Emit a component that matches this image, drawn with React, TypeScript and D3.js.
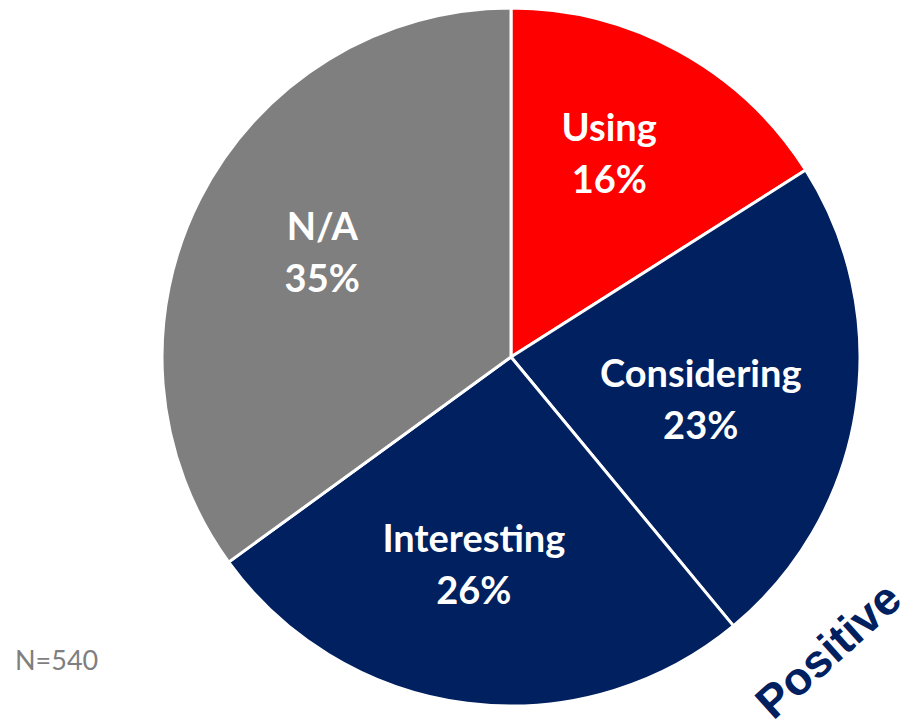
import * as d3 from 'd3';
import { useEffect, useRef } from 'react';

const categories = ['Using', 'Considering', 'Interesting', 'N/A'];
const values = [16, 23, 26, 35];
const colors = ['#FF0000', '#002060', '#002060', '#7F7F7F'];

// label nudges (px) from the slice centroid, to mimic Excel's placement
const labelNudge = [
  [-6, -14],
  [-24, 8],
  [-10, -8],
  [4, -7],
];

const width = 903;
const height = 720;

export default function App() {
  const svgRef = useRef<SVGSVGElement>(null);

  useEffect(() => {
    const svg = d3.select(svgRef.current);
    svg.selectAll('*').remove();

    const cx = 511;
    const cy = 357;
    const r = 349;

    const pie = d3
      .pie<number>()
      .sort(null)
      .value((d) => d);
    const arcs = pie(values);
    const arc = d3.arc<d3.PieArcDatum<number>>().innerRadius(0).outerRadius(r);
    const labelArc = d3
      .arc<d3.PieArcDatum<number>>()
      .innerRadius(r * 0.62)
      .outerRadius(r * 0.62);

    const g = svg.append('g').attr('transform', `translate(${cx},${cy})`);

    g.selectAll('path')
      .data(arcs)
      .enter()
      .append('path')
      .attr('d', arc)
      .attr('fill', (d, i) => colors[i])
      .attr('stroke', '#fff')
      .attr('stroke-width', 3)
      .attr('stroke-linejoin', 'round');

    const labels = g
      .selectAll('text.lbl')
      .data(arcs)
      .enter()
      .append('text')
      .attr('class', 'lbl')
      .attr('transform', (d, i) => {
        const [x, y] = labelArc.centroid(d);
        return `translate(${x + labelNudge[i][0]},${y + labelNudge[i][1]})`;
      })
      .attr('text-anchor', 'middle')
      .attr('fill', '#fff')
      .attr('font-family', 'Lato, "Open Sans", sans-serif')
      .attr('font-weight', 'bold')
      .attr('font-size', 38);

    labels
      .append('tspan')
      .attr('x', 0)
      .attr('y', -12)
      .text((d, i) => categories[i]);
    labels
      .append('tspan')
      .attr('x', 0)
      .attr('y', 40)
      .text((d) => `${d.data}%`);

    svg
      .append('text')
      .attr('x', 15)
      .attr('y', 670)
      .attr('fill', '#7F7F7F')
      .attr('font-family', 'Lato, "Open Sans", sans-serif')
      .attr('font-size', 27)
      .text('N=540');

    svg
      .append('text')
      .attr('transform', 'translate(828,650) rotate(-42)')
      .attr('text-anchor', 'middle')
      .attr('dy', '0.35em')
      .attr('fill', '#002060')
      .attr('font-family', '"Liberation Sans", Arial, sans-serif')
      .attr('font-weight', 'bold')
      .attr('font-size', 46)
      .text('Positive');
  }, []);

  return (
    <svg
      ref={svgRef}
      width={width}
      height={height}
      style={{ position: 'absolute', left: 0, top: 0, background: '#fff' }}
    />
  );
}
